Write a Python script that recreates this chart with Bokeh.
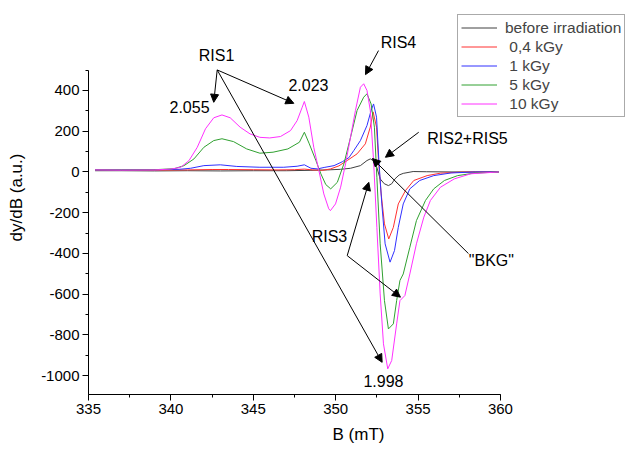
from bokeh.plotting import figure
from bokeh.models import (Range1d, SingleIntervalTicker, Label, Arrow, NormalHead,
                          Legend, LegendItem, CustomJSTickFormatter)
from bokeh.embed import file_html
from bokeh.resources import INLINE

FONT = "Liberation Sans"

# ---- data ----
series_labels = ["before irradiation", " 0,4 kGy", " 1 kGy", " 5 kGy", " 10 kGy"]

b_before = [335.4, 337, 339, 341, 343, 345, 347, 348.5, 349.5, 350.3, 350.9, 351.5, 351.9,
            352.1, 352.3, 352.5, 352.7, 352.95, 353.2, 353.4, 353.6, 353.85, 354.1, 354.7,
            355.5, 357, 358.5, 359.9]
y_before = [6, 6, 5, 6, 5, 6, 6, 8, 10, 13, 18, 31, 56, 64, 55, 22, -34, -58, -67, -58, -34,
            -15, -7, 2, 1, 0, 0, 0]

b_04 = [335.4, 337, 339, 341, 342.5, 343.5, 345, 346.5, 347.5, 348.1, 348.6, 349.2, 349.7,
        350.2, 350.7, 351.3, 351.8, 352.1, 352.27, 352.48, 352.6, 352.76, 352.96, 353.22,
        353.5, 353.8, 354.24, 354.74, 355.55, 356.36, 357.57, 358.5, 359.9]
y_04 = [10, 9, 9, 10, 12, 12, 11, 10, 11, 14, 10, 8, 15, 30, 56, 89, 138, 220, 295, 220, 56,
        -108, -255, -329, -272, -157, -91, -42, -18, -6, -1, 0, 0]

b_1 = [335.4, 337, 339, 340.5, 341.2, 342.0, 343.0, 344.0, 345.4, 346.85, 347.66, 348.1,
       348.5, 348.9, 349.3, 349.9, 350.4, 350.8, 351.1, 351.5, 351.9, 352.15, 352.3, 352.48,
       352.62, 352.8, 353.0, 353.3, 353.57, 353.8, 354.1, 354.5, 355.1, 355.95, 357.0, 358.5,
       359.9]
y_1 = [10, 10, 11, 13, 18, 31, 35, 27, 23, 23, 28, 35, 18, 15, 22, 31, 50, 70, 105, 154, 228,
       302, 334, 269, 56, -157, -353, -443, -386, -272, -157, -83, -42, -18, -5, 0, 0]

b_5 = [335.4, 337, 339, 340.2, 340.8, 341.4, 342.0, 342.6, 343.1, 343.8, 344.6, 345.4, 346.2,
       347.1, 347.8, 348.1, 348.4, 348.8, 349.1, 349.4, 349.7, 350.1, 350.5, 350.9, 351.3,
       351.7, 351.9, 352.15, 352.35, 352.5, 352.7, 352.96, 353.2, 353.5, 353.7, 353.9, 354.1,
       354.5, 354.9, 355.45, 355.95, 356.6, 357.4, 358.4, 359.9]
y_5 = [10, 10, 11, 16, 31, 64, 121, 154, 163, 149, 113, 92, 97, 113, 146, 195, 138, 56, -9,
       -62, -83, -51, 40, 170, 302, 367, 384, 334, 220, -26, -353, -632, -771, -746, -632,
       -533, -501, -370, -239, -140, -83, -42, -18, -6, 0]

b_10 = [335.4, 337, 339, 340.0, 340.6, 341.1, 341.6, 342.1, 342.6, 343.1, 343.6, 344.2, 344.8,
        345.4, 346.0, 346.65, 347.26, 347.66, 347.97, 348.1, 348.37, 348.67, 348.98, 349.28,
        349.58, 349.68, 349.99, 350.3, 350.6, 350.9, 351.2, 351.5, 351.7, 351.9, 352.1, 352.3,
        352.5, 352.7, 352.9, 353.16, 353.4, 353.7, 353.9, 354.2, 354.5, 354.9, 355.35, 355.75,
        356.36, 357.2, 358.2, 359.9]
y_10 = [10, 9, 10, 14, 23, 56, 121, 212, 266, 280, 266, 220, 187, 170, 167, 174, 203, 252, 318,
        346, 269, 121, 7, -108, -181, -190, -157, -75, 40, 170, 302, 416, 433, 400, 302, 56,
        -272, -599, -844, -967, -926, -746, -632, -607, -501, -353, -222, -140, -75, -34, -9, 0]

colors = ["#404040", "#ff3030", "#3030ff", "#30a030", "#ff30ff"]

# ---- figure ----
p = figure(width=628, height=452, output_backend="svg", toolbar_location=None,
           x_range=Range1d(335, 367.77), y_range=Range1d(-1093, 842),
           min_border_left=88, min_border_right=0, min_border_top=0, min_border_bottom=58,
           x_axis_label="B (mT)", y_axis_label="dy/dB (a.u.)")
p.xgrid.visible = False
p.ygrid.visible = False
p.outline_line_color = None
p.background_fill_color = "white"
p.border_fill_color = "white"

p.xaxis.ticker = SingleIntervalTicker(interval=5, num_minor_ticks=2)
p.yaxis.ticker = SingleIntervalTicker(interval=200, num_minor_ticks=2)
p.xaxis.bounds = (335, 360)
p.yaxis.bounds = (-1093, 500)
for ax in (p.xaxis[0], p.yaxis[0]):
    ax.formatter = CustomJSTickFormatter(code="return tick.toString();")
    ax.axis_line_color = "black"
    ax.major_tick_line_color = "black"
    ax.minor_tick_line_color = "black"
    ax.major_tick_in = 0
    ax.major_tick_out = 6
    ax.minor_tick_in = 0
    ax.minor_tick_out = 3
    ax.major_label_text_font = FONT
    ax.major_label_text_font_size = "15px"
    ax.major_label_text_color = "black"
    ax.major_label_standoff = 3
    ax.axis_label_text_font = FONT
    ax.axis_label_text_font_size = "17px"
    ax.axis_label_text_font_style = "normal"
    ax.axis_label_text_color = "black"
p.xaxis.axis_label_standoff = 8
p.yaxis.axis_label_standoff = 12

xs = [b_before, b_04, b_1, b_5, b_10]
ys = [y_before, y_04, y_1, y_5, y_10]
renderers = []
for bx, by, c in zip(xs, ys, colors):
    renderers.append(p.line(bx, by, line_color=c, line_width=1))

legend = Legend(items=[LegendItem(label=l, renderers=[r]) for l, r in zip(series_labels, renderers)],
                location=(369, 277), margin=0, padding=3, spacing=0,
                glyph_width=36, glyph_height=19, label_height=19, label_standoff=8,
                label_text_font=FONT, label_text_font_size="15.5px",
                border_line_color="#555555", border_line_width=1,
                background_fill_color="white", background_fill_alpha=1)
p.add_layout(legend)

# ---- annotations ----
def lab(x, y, t):
    p.add_layout(Label(x=x, y=y, text=t, text_align="center", text_baseline="middle",
                       text_font=FONT, text_font_size="16px", text_color="black"))

def arr(x0, y0, x1, y1):
    p.add_layout(Arrow(x_start=x0, y_start=y0, x_end=x1, y_end=y1,
                       line_color="black", line_width=1,
                       end=NormalHead(size=8, fill_color="black", line_color="black",
                                      line_width=1)))

lab(342.77, 572, "RIS1")
arr(342.81, 501, 342.60, 342)
arr(342.81, 501, 347.46, 337)
arr(342.81, 501, 352.82, -935)
lab(341.13, 321, "2.055")
lab(348.35, 426, "2.023")
lab(353.81, 635, "RIS4")
arr(352.6, 596, 351.81, 478)
lab(358.0, 164, "RIS2+RIS5")
arr(355.04, 195, 353.02, 72)
lab(359.45, -435, '"BKG"')
arr(358.06, -401, 352.23, 66)
lab(349.62, -317, "RIS3")
arr(350.70, -411, 352.01, -51)
arr(350.70, -411, 353.93, -615)
lab(352.9, -1025, "1.998")

open("out.html", "w").write(file_html(p, INLINE))
